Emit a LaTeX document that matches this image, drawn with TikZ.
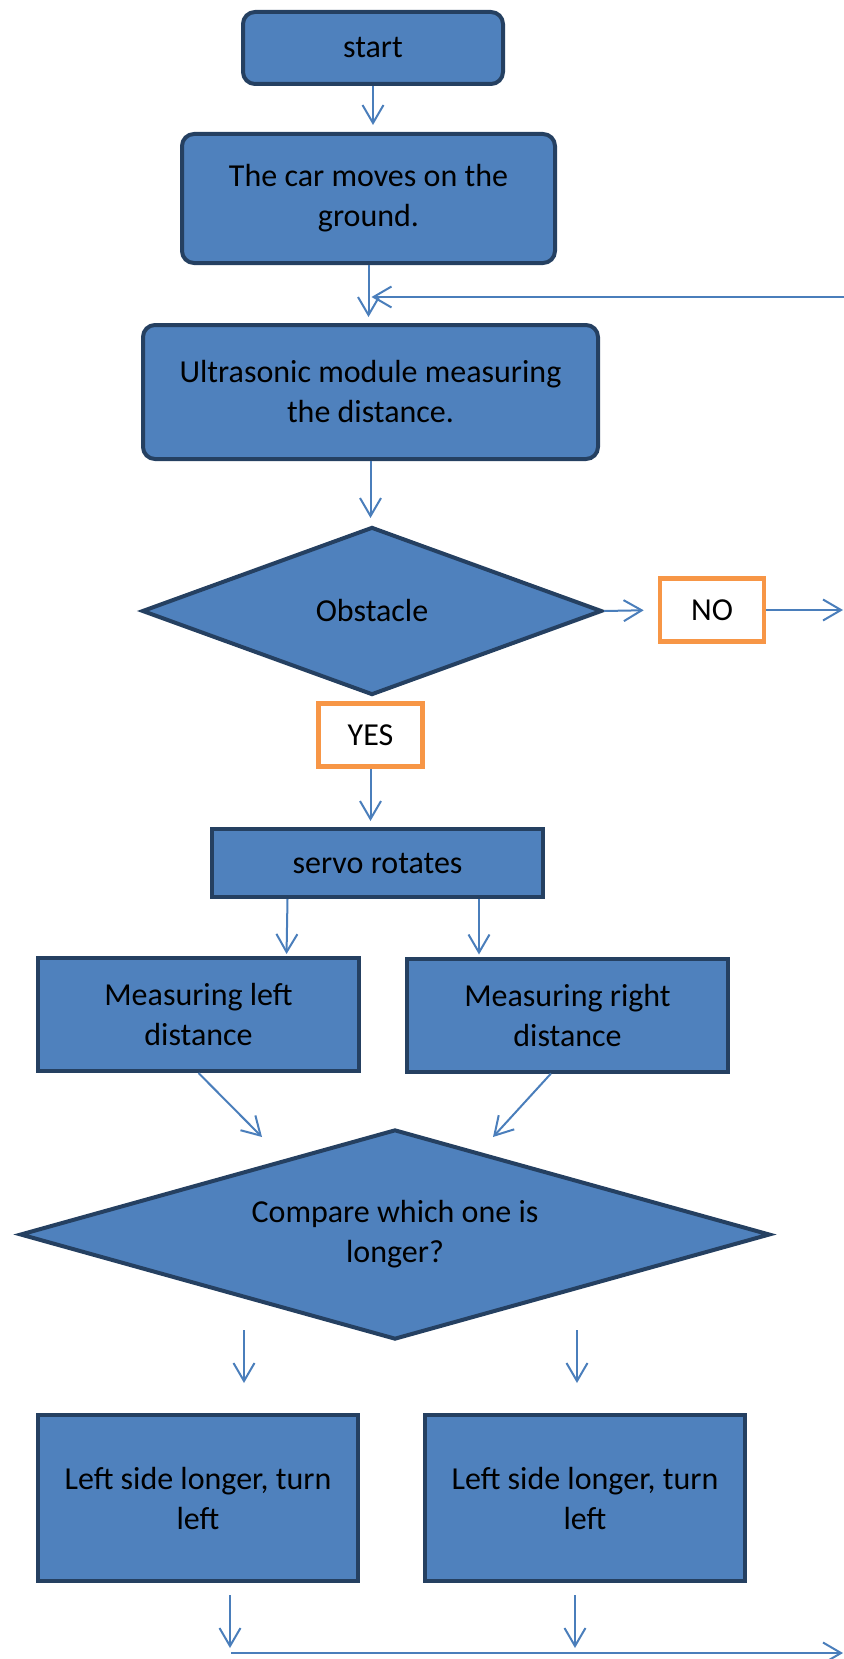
\documentclass[tikz,border=0pt]{standalone}
\usepackage{fontspec}
\setmainfont{Carlito}
\usetikzlibrary{shapes.geometric,arrows.meta}
\definecolor{boxfill}{HTML}{4F81BD}
\definecolor{boxline}{HTML}{254061}
\definecolor{arrowblue}{HTML}{4A7EBB}
\definecolor{tagline}{HTML}{F79646}
\begin{document}
\begin{tikzpicture}[x=0.5pt,y=-0.5pt,
  every node/.style={font=\fontsize{16}{20}\selectfont,align=center,inner sep=0pt},
  blk/.style={draw=boxline,fill=boxfill,line width=2pt},
  rblk/.style={blk,rounded corners=6pt},
  dec/.style={blk,diamond,aspect=3.5},
  tag/.style={draw=tagline,line width=2.3pt,fill=white,minimum width=52pt,minimum height=31.5pt},
  arr/.style={draw=arrowblue,line width=1pt,-{Straight Barb[length=9pt,width=10.5pt]}}]
  \useasboundingbox (0,0) rectangle (844,1659);
  \node[rblk,minimum width=130pt,minimum height=36pt] (start) at (373,48) {start};
  \node[rblk,minimum width=186.5pt,minimum height=64.5pt] (move) at (368.5,198.5) {The car moves on the\\ground.};
  \node[rblk,minimum width=227.5pt,minimum height=67pt] (measure) at (370.5,392) {Ultrasonic module measuring\\the distance.};
  \node[dec,minimum width=230pt,minimum height=84pt] (obstacle) at (372,611) {Obstacle};
  \node[tag] (no) at (712,610) {NO};
  \node[tag] (yes) at (370.5,735) {YES};
  \node[blk,minimum width=165.5pt,minimum height=34pt] (servo) at (377.5,863) {servo rotates};
  \node[blk,minimum width=160.5pt,minimum height=56.5pt] (mleft) at (198.5,1014.5) {Measuring left\\distance};
  \node[blk,minimum width=160.5pt,minimum height=56.5pt] (mright) at (567.5,1015) {Measuring right\\distance};
  \node[dec,minimum width=375pt,minimum height=105pt] (compare) at (395,1234.5) {Compare which one is\\longer?};
  \node[blk,minimum width=160pt,minimum height=83pt] (lleft) at (198,1498) {Left side longer, turn\\left};
  \node[blk,minimum width=160pt,minimum height=83pt] (lright) at (585,1498) {Left side longer, turn\\left};
  \coordinate (back) at (844,297);
  \coordinate (out) at (843,610);
  \coordinate (endl) at (231,1653);
  \coordinate (endr) at (843,1653);
  \draw[arr,shorten >=3.5pt] (start.south) -- (start.south |- move.north);
  \draw[arr,shorten >=3pt] (move.south) -- (move.south |- measure.north);
  \draw[arr,shorten >=1.5pt] (back) -- (back -| move.south);
  \draw[arr,shorten >=3.5pt] (measure.south) -- (measure.south |- obstacle.north);
  \draw[arr,shorten >=7pt] (obstacle.east) -- (no.west);
  \draw[arr] (no.east) -- (out);
  \draw[arr,shorten >=3pt] (yes.south) -- (yes.south |- servo.north);
  \draw[arr,shorten >=1pt] ([xshift=-45pt]servo.south) -- ([xshift=44pt]mleft.north);
  \draw[arr,shorten >=1pt] ([xshift=50.75pt]servo.south) -- ([xshift=-44.25pt]mright.north);
  \draw[arr] (mleft.south) -- ([xshift=-66.5pt,yshift=-4.75pt]compare.north);
  \draw[arr] ([xshift=-8.25pt]mright.south) -- ([xshift=49pt,yshift=-4.75pt]compare.north);
  \draw[arr] ([xshift=-75.5pt,yshift=5.75pt]compare.south) -- ([xshift=23pt,yshift=15pt]lleft.north);
  \draw[arr] ([xshift=91pt,yshift=5.75pt]compare.south) -- ([xshift=-4pt,yshift=15pt]lright.north);
  \draw[arr,shorten >=2.5pt] ([xshift=16pt,yshift=-6pt]lleft.south) -- ([xshift=16pt]lleft.south |- endl);
  \draw[arr,shorten >=2.5pt] ([xshift=-5pt,yshift=-6pt]lright.south) -- ([xshift=-5pt]lright.south |- endl);
  \draw[arr] (endl) -- (endr);
\end{tikzpicture}
\end{document}
